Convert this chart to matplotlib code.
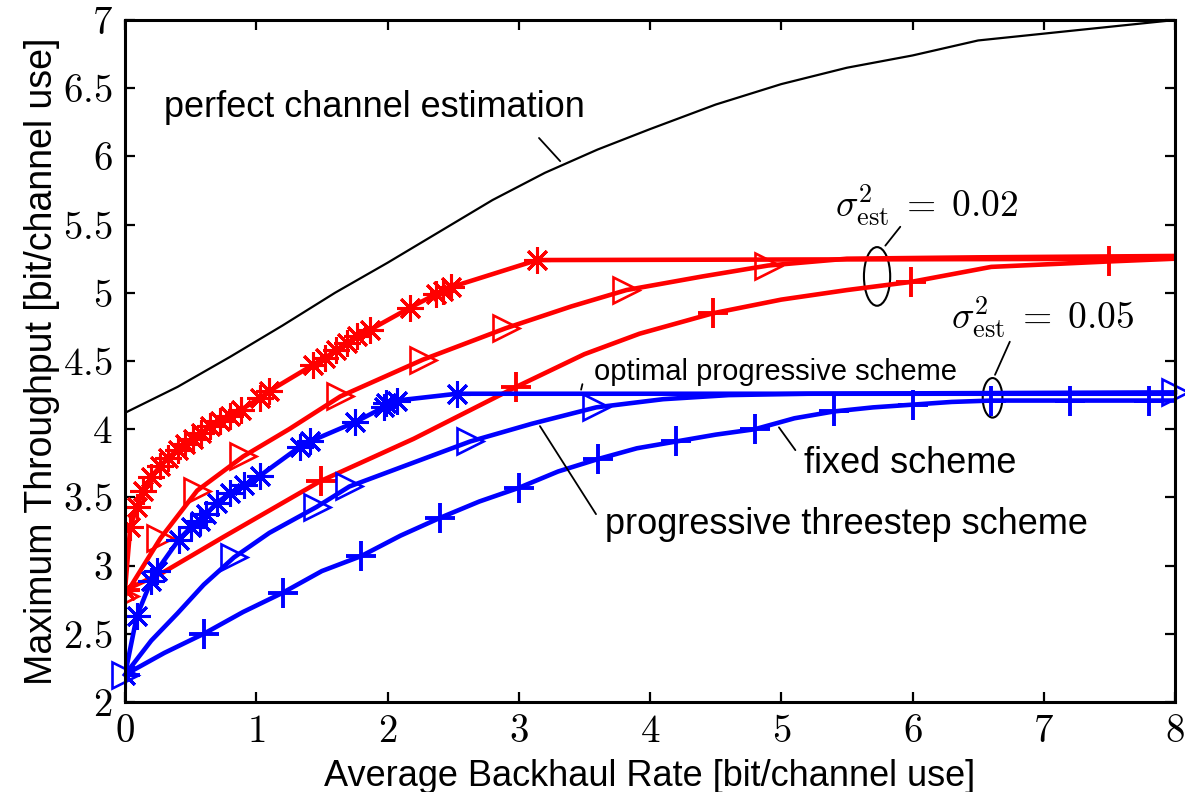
import matplotlib
matplotlib.use('Agg')
import matplotlib.pyplot as plt
from matplotlib.patches import Ellipse

plt.rcParams['font.family'] = ['Liberation Sans', 'DejaVu Sans']
plt.rcParams['mathtext.fontset'] = 'cm'

# perfect channel estimation
black_x = [0, 0.4, 0.8, 1.2, 1.6, 2.0, 2.4, 2.8, 3.2, 3.6, 4.0, 4.5, 5.0, 5.5, 6.0, 6.5, 7.0, 7.5, 8.0]
black_y = [4.12, 4.31, 4.53, 4.76, 5.0, 5.22, 5.45, 5.68, 5.88, 6.05, 6.2, 6.38, 6.53, 6.65, 6.74, 6.85, 6.90, 6.95, 7.0]

# sigma^2 = 0.02 (red)
rs_x = [0, 0.04, 0.09, 0.14, 0.20, 0.27, 0.33, 0.40, 0.46, 0.52, 0.58, 0.65, 0.72, 0.80, 0.88,
        1.03, 1.10, 1.43, 1.52, 1.61, 1.69, 1.77, 1.87, 2.17, 2.37, 2.42, 2.48, 3.14, 8.0]
rs_y = [2.82, 3.28, 3.43, 3.55, 3.65, 3.73, 3.79, 3.85, 3.89, 3.93, 3.97, 4.02, 4.06, 4.10, 4.14,
        4.23, 4.28, 4.47, 4.52, 4.58, 4.63, 4.68, 4.73, 4.89, 4.99, 5.01, 5.04, 5.24, 5.25]

rt_x = [0, 0.27, 0.55, 0.90, 1.25, 1.64, 2.27, 2.90, 3.4, 3.82, 4.4, 4.9, 5.5, 6.5, 8.0]
rt_y = [2.78, 3.20, 3.55, 3.80, 4.0, 4.24, 4.51, 4.74, 4.9, 5.02, 5.12, 5.20, 5.25, 5.26, 5.27]
rt_mk = [0, 1, 2, 3, 5, 6, 7, 9, 11]

rp_x = [0, 0.29, 0.75, 1.49, 2.2, 2.98, 3.5, 3.92, 4.48, 5.0, 5.5, 5.99, 6.6, 7.5, 8.0]
rp_y = [2.82, 2.95, 3.21, 3.62, 3.93, 4.31, 4.55, 4.70, 4.85, 4.95, 5.02, 5.08, 5.19, 5.23, 5.25]
rp_mk = [0, 3, 5, 8, 11, 13]

# sigma^2 = 0.05 (blue)
bs_x = [0, 0.09, 0.20, 0.24, 0.41, 0.50, 0.57, 0.62, 0.70, 0.80, 0.91, 1.03, 1.33, 1.41,
        1.75, 1.97, 1.99, 2.07, 2.53, 8.0]
bs_y = [2.20, 2.63, 2.89, 2.96, 3.19, 3.28, 3.33, 3.38, 3.46, 3.53, 3.59, 3.66, 3.87, 3.91,
        4.05, 4.16, 4.19, 4.21, 4.26, 4.26]

bt_x = [0, 0.2, 0.4, 0.6, 0.83, 1.1, 1.46, 1.71, 2.1, 2.63, 3.1, 3.59, 4.1, 4.6, 5.2, 8.0]
bt_y = [2.20, 2.45, 2.65, 2.86, 3.06, 3.24, 3.43, 3.58, 3.72, 3.91, 4.04, 4.16, 4.22, 4.25, 4.26, 4.27]
bt_mk = [0, 4, 6, 7, 9, 11, 15]

bp_x = [0, 0.3, 0.6, 0.9, 1.2, 1.5, 1.8, 2.1, 2.4, 2.7, 3.0, 3.3, 3.6, 3.9, 4.2, 4.5, 4.8,
        5.1, 5.4, 5.7, 6.0, 6.3, 6.6, 6.9, 7.2, 7.5, 7.8, 8.0]
bp_y = [2.20, 2.36, 2.50, 2.66, 2.80, 2.96, 3.07, 3.22, 3.35, 3.47, 3.57, 3.69, 3.78, 3.86,
        3.91, 3.96, 4.00, 4.08, 4.13, 4.16, 4.18, 4.20, 4.21, 4.21, 4.21, 4.21, 4.21, 4.21]
bp_mk = list(range(0, 27, 2))

xticks = [0, 1, 2, 3, 4, 5, 6, 7, 8]
yticks = [2, 2.5, 3, 3.5, 4, 4.5, 5, 5.5, 6, 6.5, 7]

star = (8, 2, 0)
lw = 3.3

fig = plt.figure(figsize=(11.85, 7.92), dpi=100)
ax = fig.add_axes([125/1185, 1-702/792, 1050/1185, 682/792])

ax.plot(black_x, black_y, 'k-', lw=1.6)

ax.plot(rs_x, rs_y, '-', color='red', lw=lw, marker=star, ms=19, mew=2.2,
        markevery=list(range(len(rs_x)-1)))
ax.plot(rt_x, rt_y, '-', color='red', lw=lw, marker='>', ms=19, mew=1.9,
        mfc='none', markevery=rt_mk)
ax.plot(rp_x, rp_y, '-', color='red', lw=lw, marker='+', ms=21, mew=2.8, markevery=rp_mk)

ax.plot(bs_x, bs_y, '-', color='blue', lw=lw, marker=star, ms=19, mew=2.2,
        markevery=list(range(len(bs_x)-1)))
ax.plot(bt_x, bt_y, '-', color='blue', lw=lw, marker='>', ms=19, mew=1.9,
        mfc='none', markevery=bt_mk, clip_on=False)
ax.plot(bp_x, bp_y, '-', color='blue', lw=lw, marker='+', ms=21, mew=2.8, markevery=bp_mk)

ax.set_xlim(0, 8)
ax.set_ylim(2, 7)
ax.set_xticks(xticks, labels=['$%g$' % t for t in xticks])
ax.set_yticks(yticks, labels=['$%g$' % t for t in yticks])
ax.tick_params(direction='in', length=7, width=1.6, top=True, right=True,
               labelsize=28, pad=9)
for s in ax.spines.values():
    s.set_linewidth(2.2)

ax.set_xlabel('Average Backhaul Rate [bit/channel use]', fontsize=26, labelpad=6)
ax.set_ylabel('Maximum Throughput [bit/channel use]', fontsize=27, labelpad=2)

# annotations
ax.text(0.30, 6.36, 'perfect channel estimation', fontsize=26, va='center')
ax.annotate('', xy=(3.33, 5.95), xytext=(3.14, 6.15),
            arrowprops=dict(arrowstyle='-', color='k', lw=1.3))

ax.text(5.41, 5.64, r'$\sigma^2_{\mathrm{est}}\;=\;0.02$', fontsize=27, va='center')
ax.add_patch(Ellipse((5.73, 5.12), 0.2, 0.43, fill=False, ec='k', lw=1.5))
ax.annotate('', xy=(5.78, 5.33), xytext=(5.92, 5.50),
            arrowprops=dict(arrowstyle='-', color='k', lw=1.3))

ax.text(6.29, 4.82, r'$\sigma^2_{\mathrm{est}}\;=\;0.05$', fontsize=27, va='center')
ax.add_patch(Ellipse((6.61, 4.23), 0.15, 0.29, fill=False, ec='k', lw=1.5))
ax.annotate('', xy=(6.62, 4.38), xytext=(6.75, 4.66),
            arrowprops=dict(arrowstyle='-', color='k', lw=1.3))

ax.text(3.57, 4.42, 'optimal progressive scheme', fontsize=21, va='center')
ax.annotate('', xy=(3.47, 4.27), xytext=(3.49, 4.35),
            arrowprops=dict(arrowstyle='-', color='k', lw=1.3))

ax.text(5.17, 3.75, 'fixed scheme', fontsize=26, va='center')
ax.annotate('', xy=(4.97, 4.03), xytext=(5.12, 3.83),
            arrowprops=dict(arrowstyle='-', color='k', lw=1.3))

ax.text(3.66, 3.30, 'progressive threestep scheme', fontsize=26, va='center')
ax.annotate('', xy=(3.15, 4.04), xytext=(3.60, 3.36),
            arrowprops=dict(arrowstyle='-', color='k', lw=1.3))

fig.savefig('out.png', dpi=100)
